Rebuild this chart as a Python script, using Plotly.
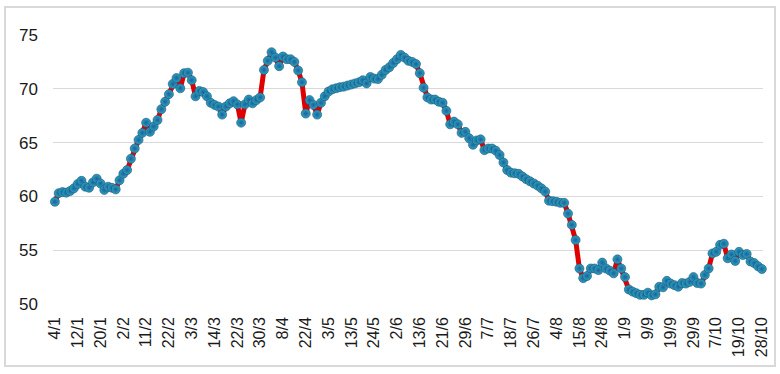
import plotly.graph_objects as go

values = [
    59.5, 60.3, 60.4, 60.35, 60.5, 60.75, 61.15, 61.45, 60.9, 60.8,
    61.3, 61.65, 61.2, 60.6, 60.9, 60.8, 60.65, 61.5, 62.1, 62.45,
    63.5, 64.45, 65.25, 65.9, 66.85, 66.0, 66.5, 67.1, 68.1, 68.8,
    69.5, 70.45, 71.0, 70.05, 71.45, 71.5, 70.8, 69.3, 69.8, 69.7,
    69.3, 68.7, 68.5, 68.35, 67.6, 68.35, 68.65, 68.85, 68.55, 66.85,
    68.55, 69.0, 68.65, 68.95, 69.2, 71.75, 72.6, 73.4, 72.9, 72.1,
    73.0, 72.75, 72.75, 72.5, 71.7, 70.6, 67.7, 68.95, 68.5, 67.6,
    68.7, 69.3, 69.75, 69.95, 70.05, 70.15, 70.2, 70.3, 70.4, 70.5,
    70.6, 70.8, 70.5, 71.1, 70.95, 70.9, 71.3, 71.75, 72.0, 72.4,
    72.75, 73.15, 72.9, 72.6, 72.5, 72.3, 71.45, 70.1, 69.2, 69.0,
    69.0, 68.8, 68.7, 67.95, 66.7, 66.95, 66.7, 65.9, 66.0, 65.4,
    64.8, 65.2, 65.3, 64.3, 64.45, 64.45, 64.25, 63.85, 63.15, 62.45,
    62.2, 62.15, 62.1, 61.85, 61.6, 61.4, 61.2, 61.0, 60.75, 60.45,
    59.6, 59.55, 59.5, 59.4, 59.4, 58.4, 57.35, 55.95, 53.3, 52.4,
    52.6, 53.3, 53.3, 53.15, 53.85, 53.3, 53.1, 52.85, 54.15, 53.3,
    52.5, 51.35, 51.15, 51.0, 50.85, 50.85, 51.05, 50.8, 50.9, 51.6,
    51.55, 52.15, 51.9, 51.75, 51.6, 51.95, 51.9, 52.05, 52.5, 51.95,
    51.9, 52.7, 53.3, 54.7, 54.85, 55.5, 55.6, 54.25, 54.6, 54.0,
    54.85, 54.55, 54.65, 53.95, 53.8, 53.5, 53.25,
]

tick_labels = [
    "4/1", "12/1", "20/1", "2/2", "11/2", "22/2", "3/3", "14/3", "22/3", "30/3",
    "8/4", "22/4", "3/5", "13/5", "24/5", "2/6", "13/6", "21/6", "29/6", "7/7",
    "18/7", "26/7", "4/8", "15/8", "24/8", "1/9", "9/9", "19/9", "29/9", "7/10",
    "19/10", "28/10",
]

y_ticks = [50, 55, 60, 65, 70, 75]

n = len(values)
idx = list(range(n))
step = (n - 1) / (len(tick_labels) - 1)
tick_positions = [round(k * step, 3) for k in range(len(tick_labels))]

fig = go.Figure()
fig.add_trace(go.Scatter(
    x=idx, y=values,
    mode="lines+markers",
    line=dict(color="#e00000", width=5),
    marker=dict(
        size=9,
        color="#2ba6b6",
        gradient=dict(type="radial", color="#1d5ea3"),
        line=dict(width=0.6, color="#1a4d85"),
    ),
    cliponaxis=False,
    hoverinfo="x+y",
))

fig.update_layout(
    width=780, height=374,
    margin=dict(l=53, r=17, t=35, b=70),
    paper_bgcolor="white",
    plot_bgcolor="white",
    showlegend=False,
    font=dict(family="Liberation Sans, Arial, sans-serif", color="#1a1a1a"),
    xaxis=dict(
        range=[-0.5, n - 1 + 0.3],
        tickmode="array",
        tickvals=tick_positions,
        ticktext=tick_labels,
        tickangle=-90,
        tickfont=dict(size=16),
        showgrid=False,
        zeroline=False,
        showline=False,
        ticks="",
        ticklabelstandoff=9,
        automargin=False,
    ),
    yaxis=dict(
        range=[50, 75],
        tickmode="array",
        tickvals=y_ticks,
        showgrid=True,
        gridcolor="#d9d9d9",
        gridwidth=1.3,
        zeroline=False,
        showline=False,
        ticks="",
        tickfont=dict(size=17),
        ticklabelstandoff=14,
        automargin=False,
    ),
    shapes=[dict(
        type="rect", xref="paper", yref="paper",
        x0=-48 / 710, x1=1 + 12 / 710,
        y0=-62 / 269, y1=1 + 28 / 269,
        line=dict(color="#d9d9d9", width=2),
        fillcolor="rgba(0,0,0,0)",
        layer="below",
    )],
)

fig.write_html(
    "out.html",
    config={"displayModeBar": False},
    post_script="document.body.style.margin='0';",
)
